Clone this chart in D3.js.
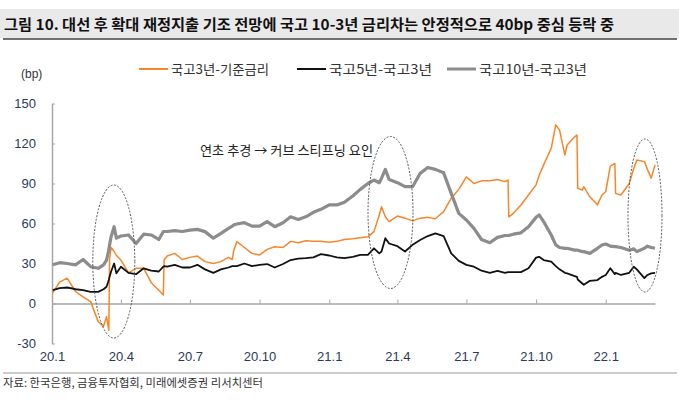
<!DOCTYPE html>
<html><head><meta charset="utf-8">
<script src="https://cdn.jsdelivr.net/npm/d3@7"></script>
<style>
html,body{margin:0;padding:0;background:#fff;}
svg{display:block;font-family:"Liberation Sans",Arial,"Noto Sans CJK KR",sans-serif;}
</style></head><body>
<svg id="chart" width="679" height="400"></svg>
<script>
const dates = ["2020-01-02","2020-01-11","2020-01-21","2020-02-01","2020-02-11","2020-02-21","2020-03-02","2020-03-09","2020-03-13","2020-03-16","2020-03-17","2020-03-19","2020-03-23","2020-03-26","2020-04-01","2020-04-11","2020-04-21","2020-05-01","2020-05-11","2020-05-21","2020-05-27","2020-05-28","2020-06-01","2020-06-11","2020-06-21","2020-07-01","2020-07-11","2020-07-21","2020-08-01","2020-08-11","2020-08-21","2020-08-26","2020-08-28","2020-09-01","2020-09-11","2020-09-21","2020-10-01","2020-10-11","2020-10-21","2020-11-01","2020-11-11","2020-11-21","2020-12-01","2020-12-11","2020-12-21","2021-01-01","2021-01-11","2021-01-21","2021-02-01","2021-02-11","2021-02-21","2021-03-01","2021-03-08","2021-03-11","2021-03-16","2021-03-21","2021-04-01","2021-04-11","2021-04-21","2021-05-01","2021-05-11","2021-05-21","2021-06-01","2021-06-11","2021-06-21","2021-07-01","2021-07-11","2021-07-21","2021-08-01","2021-08-11","2021-08-21","2021-08-25","2021-08-26","2021-09-01","2021-09-11","2021-09-21","2021-10-01","2021-10-05","2021-10-11","2021-10-21","2021-10-27","2021-11-01","2021-11-08","2021-11-11","2021-11-21","2021-11-24","2021-11-25","2021-12-01","2021-12-03","2021-12-11","2021-12-21","2021-12-27","2022-01-01","2022-01-07","2022-01-13","2022-01-14","2022-01-21","2022-02-01","2022-02-07","2022-02-11","2022-02-21","2022-02-25","2022-03-02","2022-03-07"];

// 국고3년-기준금리
const spread3yBase = [8,16,19,9,5,1.4,-13.6,-17,-10,-20,33,42,39,36,32.6,23,26.4,26.4,15.6,10,6.4,32.6,35.6,37.6,33,34.6,35.6,31.4,30,31.4,34.6,33,40,46.4,42,37.6,36.4,40.6,42.6,42,46.6,45.6,47,46.6,46.6,46,46.6,48,48.6,49.4,50,53.9,66.4,72.6,65,61.4,65.6,64,62,64,64.6,63.6,68.9,79,85.6,95,90,92,92,93,91.4,92.6,65,67.6,73.9,81.4,89,96,104,116.4,134,130,111.4,118.9,125,126.4,86.4,85,87.6,80,74,81.4,84,103,105,82.6,81.4,90,101.4,107.6,106.4,100.6,94,104];

// 국고5년-국고3년
const spread5y3y = [10,11.5,12,10.7,10,8.7,8.7,10.7,12.6,17.6,20,24,30,22.6,27.6,23,22,26.4,24.6,24,27.6,28,27.6,29,27,27,29,25.6,23,25.6,27,28,28,28,30,28,29,29.6,27,29.6,32.6,33.6,34,34.6,37,36,34.6,34,35,36.4,36.4,41.4,37.6,39,49,45,43,39,44,47.6,50.6,52.6,50.6,37.6,32,29,27.6,24.6,23,24.4,23,23.5,23.5,23.5,23.5,26.4,34.4,35,32.6,31.4,28,25.6,23,22.6,20.6,20,18,15,14,17,17.6,20,21.4,26.4,22,23,21.4,23,27.6,25.6,19,21.4,22.6,23];

// 국고10년-국고3년
const spread10y3y = [29,30.6,30,29,33,27.6,26.4,29,32.6,40,44,50,57.6,49,50.6,51.4,45,52,51.4,48,54,54,54,54.6,54,55,55.6,53.9,49,52.6,56.4,58,59,59.6,60.6,58,58,61.4,57.6,60.6,65,63,65,68.4,70.6,74,73.9,76,80.6,85.6,90,92.6,90.6,94,100.6,93,90.6,87.6,87.6,97.6,102,100.6,98,82.6,67.6,62.6,56.4,48,45.6,49.6,51,51,51,52,53,57.6,64.6,66.4,61.4,51.4,44,42,41.4,41.4,40,40,40,38.9,38.9,37.6,41.4,43.9,44.6,43,42.6,42.6,42,40,41,38.9,41.4,43,42,41.4];

const seriesNames = ["국고3년-기준금리","국고5년-국고3년","국고10년-국고3년"];
const seriesColors = ["#f7862a","#111111","#8c8c8c"];
const yTicks = [-30,0,30,60,90,120,150];
const xTickDates = ["2020-01-01","2020-04-01","2020-07-01","2020-10-01","2021-01-01","2021-04-01","2021-07-01","2021-10-01","2022-01-01"];
const xTickLabels = ["20.1","20.4","20.7","20.10","21.1","21.4","21.7","21.10","22.1"];

const parse = d3.timeParse("%Y-%m-%d");
const svg = d3.select("#chart");

// title band
svg.append("rect").attr("x",0).attr("y",9).attr("width",679).attr("height",29).attr("fill","#e9e9e9");
svg.append("rect").attr("x",3).attr("y",38).attr("width",674).attr("height",2).attr("fill","#707070");
svg.append("text").attr("x",4).attr("y",30)
  .attr("font-family","'Noto Sans CJK KR',sans-serif").attr("font-weight","bold").attr("font-size",15)
  .attr("fill","#111").attr("textLength",610).attr("lengthAdjust","spacingAndGlyphs")
  .text("그림 10. 대선 후 확대 재정지출 기조 전망에 국고 10-3년 금리차는 안정적으로 40bp 중심 등락 중");

const x = d3.scaleTime().domain([parse("2020-01-01"), parse("2022-03-07")]).range([52, 655]);
const y = d3.scaleLinear().domain([-30,150]).range([343.5,103.5]);

// y axis
const yAxis = d3.axisLeft(y).tickValues(yTicks).tickSizeInner(-3).tickSizeOuter(0).tickPadding(16).tickFormat(d=> d<0 ? "-"+Math.abs(d) : d);
const gy = svg.append("g").attr("transform","translate(52,0)").call(yAxis);
gy.select(".domain").attr("stroke","#a6a6a6").attr("stroke-width",1.5);
gy.selectAll(".tick line").attr("stroke","#a6a6a6").attr("stroke-width",1);
gy.selectAll("text").attr("font-size",13).attr("fill","#2a3a5c").attr("font-family","'Liberation Sans',Arial,sans-serif");

// x axis at zero
const xAxis = d3.axisBottom(x).tickValues(xTickDates.map(parse)).tickSizeInner(-4).tickSizeOuter(0).tickPadding(48)
  .tickFormat((d,i)=> xTickLabels[i]);
const gx = svg.append("g").attr("transform",`translate(0,${y(0)})`).call(xAxis);
gx.select(".domain").attr("stroke","#a6a6a6").attr("stroke-width",1.5);
gx.selectAll(".tick line").attr("stroke","#a6a6a6").attr("stroke-width",1);
gx.selectAll("text").attr("font-size",13).attr("fill","#2a3a5c").attr("font-family","'Liberation Sans',Arial,sans-serif");

// lines
const pts = dates.map(parse);
const line = d3.line().x((d,i)=>x(pts[i])).y(d=>y(d));
const data = [spread3yBase, spread5y3y, spread10y3y];
const widths = [1.5, 1.8, 3.2];
[0,1,2].forEach(k=>{
  svg.append("path").datum(data[k]).attr("fill","none").attr("stroke",seriesColors[k])
    .attr("stroke-width",widths[k]).attr("stroke-linejoin","round").attr("d",line);
});

// ellipses
const ells = [[113.8,261.5,21,76.5],[390.5,212.5,22.5,76],[645,215.5,17,76.5]];
ells.forEach(e=>{
  svg.append("ellipse").attr("cx",e[0]).attr("cy",e[1]).attr("rx",e[2]).attr("ry",e[3])
    .attr("fill","none").attr("stroke","#555").attr("stroke-width",1).attr("stroke-dasharray","2,1.5");
});

// annotation
svg.append("text").attr("x",200).attr("y",155).attr("font-size",13).attr("fill","#222")
  .attr("font-family","'Noto Sans CJK KR',sans-serif").attr("textLength",173).attr("lengthAdjust","spacingAndGlyphs")
  .text("연초 추경 → 커브 스티프닝 요인");

// legend
const legX = [139, 297, 447];
const legTextLen = [98, 103, 108];
seriesNames.forEach((n,i)=>{
  svg.append("line").attr("x1",legX[i]).attr("x2",legX[i]+29).attr("y1",69).attr("y2",69)
    .attr("stroke",seriesColors[i]).attr("stroke-width",i===2?3:2);
  svg.append("text").attr("x",legX[i]+32).attr("y",74).attr("font-size",13).attr("fill","#333")
    .attr("font-family","'Noto Sans CJK KR',sans-serif").attr("textLength",legTextLen[i]).attr("lengthAdjust","spacingAndGlyphs")
    .text(n);
});
svg.append("text").attr("x",21).attr("y",78).attr("font-size",12).attr("fill","#333").text("(bp)");

// source
svg.append("line").attr("x1",3).attr("x2",677).attr("y1",373).attr("y2",373).attr("stroke","#999").attr("stroke-width",1);
svg.append("text").attr("x",3).attr("y",387).attr("font-size",11.5).attr("fill","#333")
  .attr("font-family","'Noto Sans CJK KR',sans-serif").attr("textLength",260).attr("lengthAdjust","spacingAndGlyphs")
  .text("자료: 한국은행, 금융투자협회, 미래에셋증권 리서치센터");
</script>
</body></html>
